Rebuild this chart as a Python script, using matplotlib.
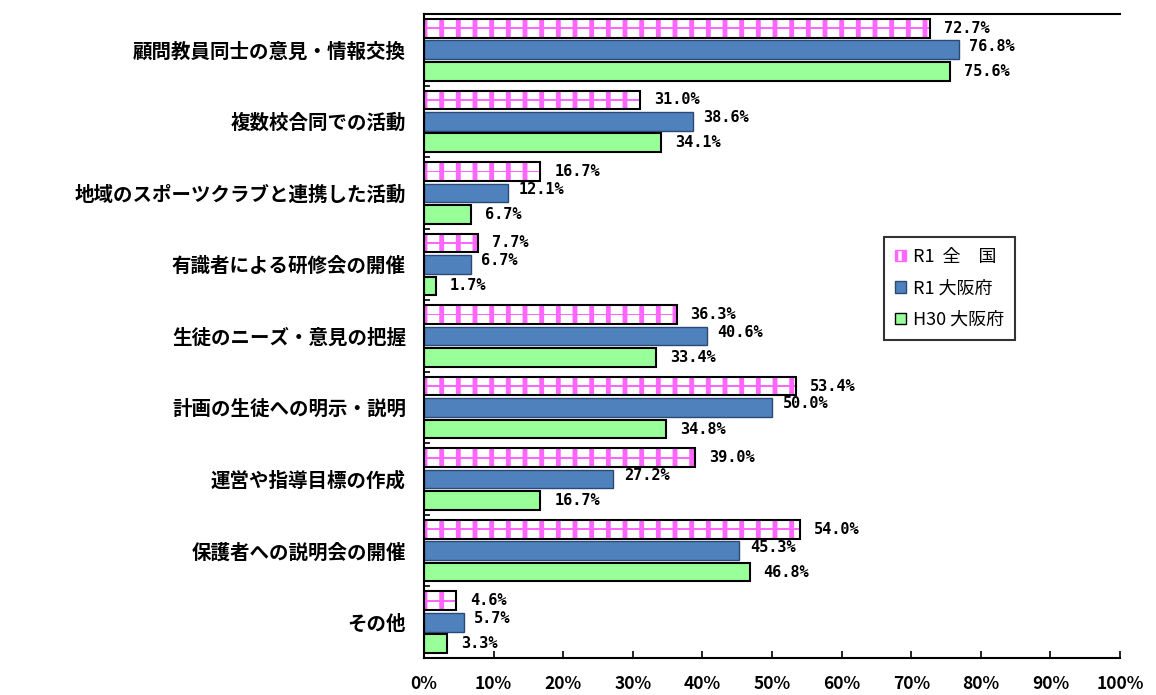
import matplotlib
matplotlib.use("Agg")
import matplotlib.pyplot as plt
import numpy as np
from matplotlib.patches import Patch

plt.rcParams['font.family'] = ['Noto Sans CJK JP', 'DejaVu Sans']
plt.rcParams['hatch.linewidth'] = 3.5

categories = ["顧問教員同士の意見・情報交換", "複数校合同での活動", "地域のスポーツクラブと連携した活動",
              "有識者による研修会の開催", "生徒のニーズ・意見の把握", "計画の生徒への明示・説明",
              "運営や指導目標の作成", "保護者への説明会の開催", "その他"]
r1_zenkoku = [72.7, 31.0, 16.7, 7.7, 36.3, 53.4, 39.0, 54.0, 4.6]
r1_osaka = [76.8, 38.6, 12.1, 6.7, 40.6, 50.0, 27.2, 45.3, 5.7]
h30_osaka = [75.6, 34.1, 6.7, 1.7, 33.4, 34.8, 16.7, 46.8, 3.3]
series_names = ["R1  全　国", "R1 大阪府", "H30 大阪府"]
xticks = [0, 10, 20, 30, 40, 50, 60, 70, 80, 90, 100]

fig = plt.figure(figsize=(11.56, 6.95), dpi=100)
ax = fig.add_axes([424/1156, 1-658/695, 696/1156, 644/695])

y = np.arange(len(categories))
off = 0.3
h = 0.26
# pink patterned bars
ax.barh(y - off, r1_zenkoku, height=h, color='white', edgecolor='#ff66ff', linewidth=0, hatch='|')
ax.barh(y - off, r1_zenkoku, height=0.025, color='#ff66ff', linewidth=0)
ax.barh(y - off, r1_zenkoku, height=h, fill=False, edgecolor='black', linewidth=1.5)
ax.barh(y, r1_osaka, height=h, color='#4f81bd', edgecolor='#2a4a75', linewidth=1.0)
ax.barh(y + off, h30_osaka, height=h, color='#99ff99', edgecolor='black', linewidth=1.5)

lab_kw = dict(va='center', ha='left', fontsize=11, fontweight='bold', family='DejaVu Sans Mono')
for i in range(len(categories)):
    ax.text(r1_zenkoku[i] + 2.0, y[i] - off, f"{r1_zenkoku[i]:.1f}%", **lab_kw)
    ax.text(r1_osaka[i] + 1.5, y[i] - 0.05, f"{r1_osaka[i]:.1f}%", **lab_kw)
    ax.text(h30_osaka[i] + 2.0, y[i] + off, f"{h30_osaka[i]:.1f}%", **lab_kw)

ax.set_xlim(0, 100)
ax.set_ylim(len(categories) - 0.5, -0.5)
ax.set_yticks(y)
ax.set_yticklabels(categories, fontsize=14, fontweight='bold')
ax.set_yticks(np.arange(len(categories) + 1) - 0.5, minor=True)
ax.tick_params(axis='y', which='major', length=0, pad=13)
ax.tick_params(axis='y', which='minor', direction='in', length=4, width=1.2)
ax.set_xticks(xticks)
ax.set_xticklabels([f"{v}%" for v in xticks], fontsize=12.5, fontweight='bold')
ax.tick_params(axis='x', direction='in', length=5, width=1.2, pad=12)
ax.spines['right'].set_visible(False)
for s in ['top', 'left', 'bottom']:
    ax.spines[s].set_linewidth(1.5)

handles = [Patch(facecolor='white', edgecolor='#ff66ff', hatch='||', linewidth=1),
           Patch(facecolor='#4f81bd', edgecolor='#2a4a75'),
           Patch(facecolor='#99ff99', edgecolor='black')]
leg = ax.legend(handles, series_names, loc='upper left', bbox_to_anchor=(0.661, 0.654),
                fontsize=13, frameon=True, fancybox=False, edgecolor='black',
                handlelength=0.6, handleheight=0.6, handletextpad=0.4,
                labelspacing=0.75, borderpad=0.6, borderaxespad=0)
leg.get_frame().set_linewidth(1.5)

fig.savefig("out.png", dpi=100)
